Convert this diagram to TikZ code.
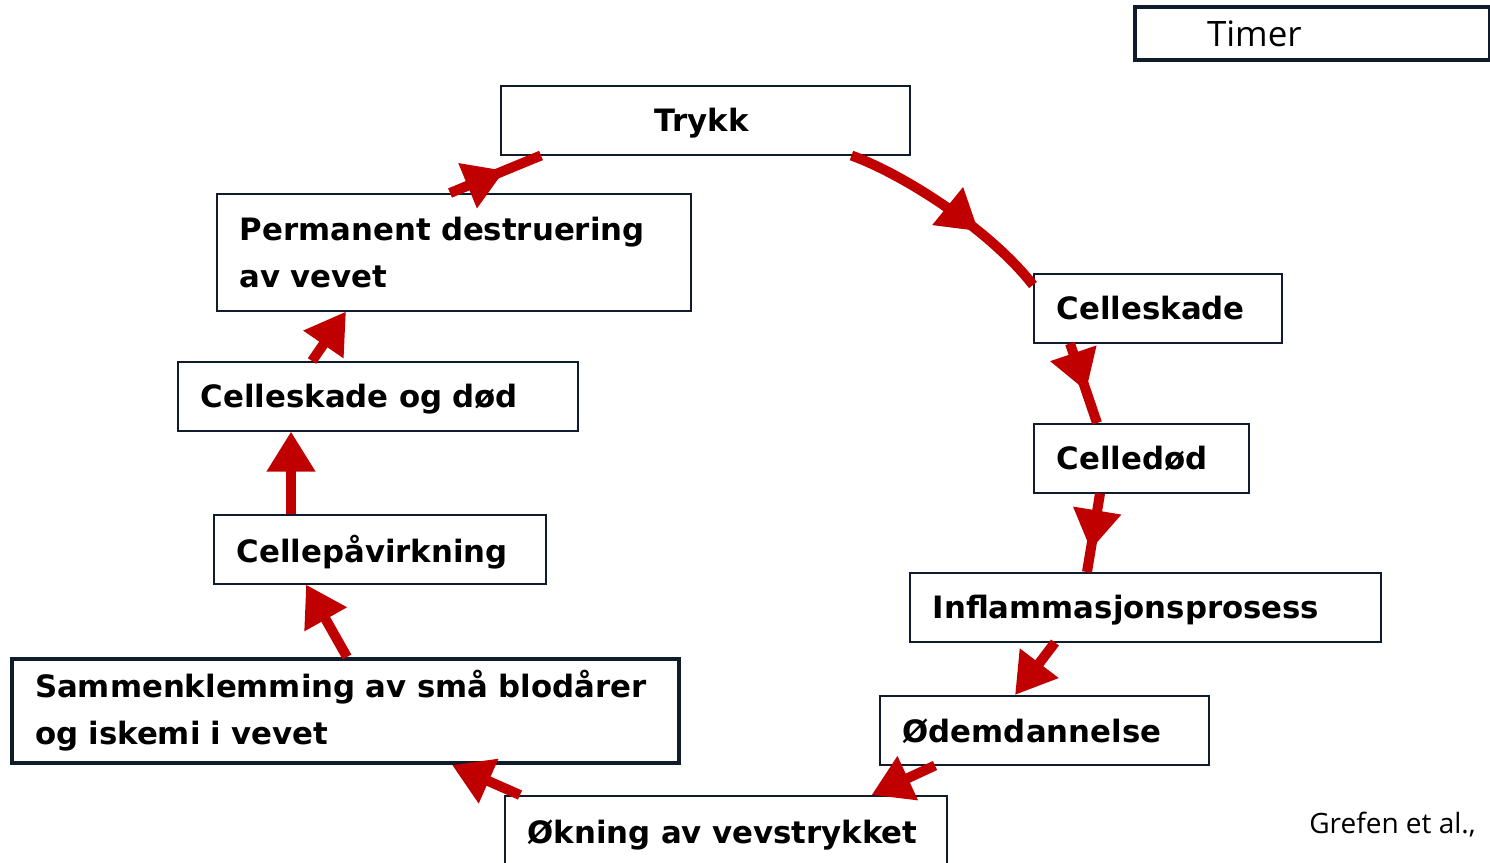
\documentclass[tikz,border=0pt]{standalone}
\usepackage{fontspec}
\setmainfont{DejaVu Sans}
\newfontfamily\lightfont{Open Sans}
\usetikzlibrary{arrows.meta,decorations.markings}
\definecolor{frame}{HTML}{101B2C}
\definecolor{flow}{HTML}{C00000}
\tikzset{
  box/.style={draw=frame, line width=1.5pt, fill=white, rectangle, anchor=north west,
    inner xsep=23pt, inner ysep=0pt, align=left,
    font=\fontsize{30.8}{47}\selectfont\bfseries},
  single/.style={box, text depth=0pt},
  boxthick/.style={box, line width=4pt},
  conn/.style={draw=flow, line width=10pt},
  tipend/.style={conn, -{Triangle[length=40pt,width=46pt]}},
  tipmid/.style={conn, postaction={decorate}, decoration={markings,
    mark=at position #1 with {\arrow{Triangle[length=40pt,width=46pt]}}}}
}
\begin{document}
\begin{tikzpicture}[x=1pt,y=-1pt]
\clip (0,0) rectangle (1490,862);
\fill[white] (0,0) rectangle (1490,862);

% boxes
\node[single, minimum width=409pt, minimum height=69pt, text width=363pt] (trykk) at (500,85) {\hspace*{131pt}Trykk};
\node[box, minimum width=474pt, minimum height=117pt, text width=428pt] (perm) at (216,193) {Permanent destruering\\av vevet};
\node[single, minimum width=400pt, minimum height=69pt, text width=354pt] (csod) at (177,361) {Celleskade og død};
\node[single, minimum width=332pt, minimum height=69pt, text width=286pt] (cellepa) at (213,514) {Cellepåvirkning};
\node[boxthick, minimum width=667pt, minimum height=104pt, text width=621pt] (sammen) at (10,657) {Sammenklemming av små blodårer\\og iskemi i vevet};
\node[single, minimum width=248pt, minimum height=69pt, text width=202pt] (celleskade) at (1033,273) {Celleskade};
\node[single, minimum width=215pt, minimum height=69pt, text width=169pt] (celledod) at (1033,423) {Celledød};
\node[single, minimum width=471pt, minimum height=69pt, text width=425pt] (inflam) at (909,572) {Inflammasjonsprosess};
\node[single, minimum width=329pt, minimum height=69pt, text width=283pt] (odem) at (879,695) {Ødemdannelse};
\node[single, minimum width=442pt, minimum height=72pt, text width=396pt] (okning) at (504,795) {Økning av vevstrykket};
\node[draw=frame, line width=4pt, anchor=north west, minimum width=355pt, minimum height=53pt,
  inner xsep=72pt, inner ysep=0pt, text width=211pt, align=left, text depth=0pt,
  font=\lightfont\fontsize{35}{40}\selectfont] (timer) at (1133,5) {Timer};
\node[anchor=east, inner sep=0pt, font=\lightfont\fontsize{28}{32}\selectfont] (grefen) at (1476,825) {Grefen et al.,};

% connectors
\draw[tipmid=0.66] ([xshift=-59pt]trykk.south east) .. controls (905,175) and (990,230) .. ([yshift=-12pt]celleskade.north west);
\draw[tipmid=0.6] ([xshift=37pt]celleskade.south west) -- ([xshift=64pt]celledod.north west);
\draw[tipmid=0.72] ([xshift=67pt]celledod.south west) -- ([xshift=178pt]inflam.north west);
\draw[tipend] ([xshift=146pt]inflam.south west) -- ([xshift=136pt]odem.north west);
\draw[tipend] ([xshift=56pt]odem.south west) -- ([xshift=-76pt]okning.north east);
\draw[tipend] ([xshift=16pt]okning.north west) -- ([xshift=-229pt]sammen.south east);
\draw[tipend] ([xshift=337pt]sammen.north west) -- ([xshift=93pt]cellepa.south west);
\draw[tipend] ([xshift=78pt]cellepa.north west) -- ([xshift=114pt]csod.south west);
\draw[tipend] ([xshift=135pt]csod.north west) -- ([xshift=130pt]perm.south west);
\draw[tipmid=0.6] ([xshift=234pt]perm.north west) -- ([xshift=41pt]trykk.south west);
\end{tikzpicture}
\end{document}
